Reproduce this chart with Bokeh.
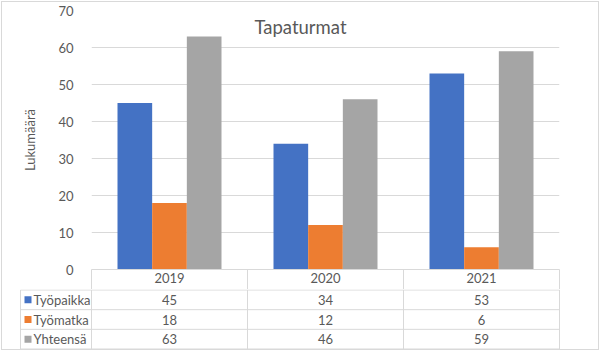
from bokeh.plotting import figure
from bokeh.models import Range1d, FixedTicker, ColumnDataSource
from bokeh.layouts import column
from bokeh.embed import file_html
from bokeh.resources import INLINE
from bokeh.core.properties import value
from bokeh.transform import dodge

# ---- data ----
years = ["2019", "2020", "2021"]
series = ["Työpaikka", "Työmatka", "Yhteensä"]
tyopaikka = [45, 34, 53]
tyomatka = [18, 12, 6]
yhteensa = [63, 46, 59]
colors = ["#4472C4", "#ED7D31", "#A5A5A5"]
y_ticks = [0, 10, 20, 30, 40, 50, 60, 70]
title_text = "Tapaturmat"
y_label = "Lukumäärä"

# ---- layout constants ----
FONT = "Lato"
TXT = "#595959"
GRID = "#d9d9d9"
W = 596
LEFT = 89
RIGHT = 39
FRAME_W = W - LEFT - RIGHT
PX_PER_CAT = FRAME_W / 3.0
TOP_MT = 8
FRAME_H = 259
TOP_MB = 20
TOP_H = TOP_MT + FRAME_H + TOP_MB
ROW_H = 20
TABLE_H = 3 * ROW_H
BAR_W = 1 / 4.5


def px_to_x(px):
    return (px - LEFT) / PX_PER_CAT


xs = [i + 0.5 for i in range(len(years))]
src = ColumnDataSource(dict(x=xs, tyopaikka=tyopaikka, tyomatka=tyomatka, yhteensa=yhteensa))

p = figure(width=W, height=TOP_H, x_range=Range1d(0, 3), y_range=Range1d(0, 70),
           output_backend="svg", toolbar_location=None,
           min_border_left=LEFT, min_border_right=RIGHT,
           min_border_top=TOP_MT, min_border_bottom=TOP_MB)
p.frame_align = False
p.outline_line_color = None
p.background_fill_color = "white"
p.border_fill_color = "white"
p.xgrid.visible = False
p.ygrid.ticker = FixedTicker(ticks=y_ticks)
p.ygrid.grid_line_color = GRID
p.ygrid.grid_line_width = 1

for key, c, off in zip(["tyopaikka", "tyomatka", "yhteensa"], colors, [-BAR_W, 0, BAR_W]):
    p.vbar(x=dodge("x", off), top=key, width=BAR_W, bottom=0, source=src,
           fill_color=c, line_color=None)

yax = p.yaxis[0]
yax.ticker = FixedTicker(ticks=y_ticks)
yax.axis_line_color = None
yax.major_tick_line_color = None
yax.minor_tick_line_color = None
yax.major_label_standoff = 12
yax.major_label_text_font = FONT
yax.major_label_text_font_size = "13px"
yax.major_label_text_color = TXT
yax.axis_label = y_label
yax.axis_label_text_font = FONT
yax.axis_label_text_font_style = "normal"
yax.axis_label_text_font_size = "13px"
yax.axis_label_text_color = TXT
yax.axis_label_standoff = 17

xax = p.xaxis[0]
xax.ticker = FixedTicker(ticks=xs, minor_ticks=[0, 1, 2, 3])
xax.major_label_overrides = {x: y for x, y in zip(xs, years)}
xax.major_tick_out = 0
xax.major_tick_in = 0
xax.major_tick_line_color = None
xax.minor_tick_in = 0
xax.minor_tick_out = TOP_MB
xax.minor_tick_line_color = GRID
xax.axis_line_color = GRID
xax.major_label_standoff = -17
xax.major_label_text_font = FONT
xax.major_label_text_font_size = "13px"
xax.major_label_text_color = TXT

p.text(x=[px_to_x(W / 2)], y=[65.5], text=[title_text], text_align="center",
       text_baseline="middle", text_font=value(FONT), text_font_size="18.5px",
       text_color=TXT)

# ---- data table ----
pad = 0.5 / ROW_H
t = figure(width=W, height=TABLE_H, x_range=Range1d(px_to_x(0), px_to_x(W)),
           y_range=Range1d(3 + pad, -pad), output_backend="svg", toolbar_location=None,
           x_axis_location=None, y_axis_location=None, min_border=0)
t.frame_align = False
t.grid.visible = False
t.outline_line_color = None
t.border_fill_color = "white"
t.background_fill_color = "white"

leg_left = px_to_x(18)
t.segment(x0=[leg_left] * 4, x1=[3] * 4, y0=[0, 1, 2, 3], y1=[0, 1, 2, 3],
          line_color=GRID, line_width=1)
t.segment(x0=[leg_left, 0, 1, 2, 3], x1=[leg_left, 0, 1, 2, 3], y0=[0] * 5, y1=[3] * 5,
          line_color=GRID, line_width=1)

rows = [0.5, 1.5, 2.5]
t.scatter(x=[px_to_x(25.5)] * 3, y=rows, marker="square", size=7, color=colors, line_color=None)
t.text(x=[px_to_x(31)] * 3, y=rows, text=series, text_align="left", text_baseline="middle",
       text_font=value(FONT), text_font_size="13px", text_color=TXT)

for r, vals in zip(rows, [tyopaikka, tyomatka, yhteensa]):
    t.text(x=xs, y=[r] * 3, text=[str(v) for v in vals], text_align="center",
           text_baseline="middle", text_font=value(FONT), text_font_size="13px",
           text_color=TXT)

layout = column(p, t, spacing=0, margin=(1, 0, 0, 1),
                styles={"border": "1px solid #d9d9d9"})

open("out.html", "w").write(file_html(layout, INLINE))
